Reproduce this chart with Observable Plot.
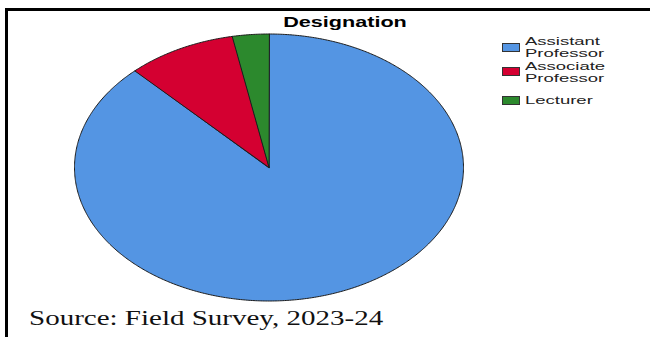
<!DOCTYPE html>
<html>
<head>
<meta charset="utf-8">
<script src="https://cdn.jsdelivr.net/npm/d3@7"></script>
<script src="https://cdn.jsdelivr.net/npm/@observablehq/plot@0.6"></script>
<style>
  html, body { margin: 0; padding: 0; background: #fff; }
  #wrap { position: relative; width: 650px; height: 337px; overflow: hidden; background: #fff; }
  #wrap svg { position: absolute; left: 0; top: 0; }
  .frame { position: absolute; left: 5px; top: 8px; width: 660px; height: 340px;
           border-top: 3px solid #000; border-left: 3px solid #000; }
  .title { position: absolute; left: 245px; width: 200px; top: 13.5px; text-align: center;
           font: bold 15px/15px "Liberation Sans", Arial, sans-serif; color: #000;
           transform: scaleX(1.44); transform-origin: 50% 0; white-space: nowrap; }
  .sw { position: absolute; left: 502px; width: 18px; height: 9px; box-sizing: border-box;
        border: 1px solid #333; }
  .lt { position: absolute; left: 525px; font: 11px/11.5px "Liberation Sans", Arial, sans-serif;
        color: #222; transform: scaleX(1.68); transform-origin: 0 0; white-space: nowrap; }
  .src { position: absolute; left: 29px; top: 308.3px; font: 20px/20px "Liberation Serif", "Times New Roman", serif;
         color: #111; transform: scaleX(1.45); transform-origin: 0 0; white-space: nowrap; }
</style>
</head>
<body>
<div id="wrap"></div>
<script>
// ---- data ----
const categories = ["Assistant Professor", "Associate Professor", "Lecturer"];
const legendLines = [["Assistant", "Professor"], ["Associate", "Professor"], ["Lecturer"]];
const counts = [58, 6, 2];
const colors = ["#5495e3", "#d40031", "#2c892d"];
const titleText = "Designation";
const sourceText = "Source: Field Survey, 2023-24";

// ---- slice geometry from the data ----
const arcs = d3.pie().sort(null).value(d => d)(counts);
function slicePoints(a, key) {
  const pts = [{x: 0, y: 0, key}];
  const n = Math.max(4, Math.ceil((a.endAngle - a.startAngle) / (Math.PI / 360)));
  for (let k = 0; k <= n; k++) {
    const t = a.startAngle + (a.endAngle - a.startAngle) * k / n;
    pts.push({x: Math.sin(t), y: Math.cos(t), key});
  }
  return pts;
}

const marks = arcs.map((a, i) =>
  Plot.line(slicePoints(a, categories[i]), {
    x: "x", y: "y", curve: "linear-closed",
    fill: colors[i], stroke: "#1c1c1c", strokeWidth: 1, strokeLinejoin: "round"
  })
);

const chart = Plot.plot({
  width: 650,
  height: 337,
  marginLeft: 74,
  marginRight: 187,
  marginTop: 33.5,
  marginBottom: 36.5,
  x: {domain: [-1, 1], axis: null},
  y: {domain: [-1, 1], axis: null},
  marks
});

const wrap = document.getElementById("wrap");
wrap.appendChild(chart);

const frame = document.createElement("div");
frame.className = "frame";
wrap.appendChild(frame);

const title = document.createElement("div");
title.className = "title";
title.textContent = titleText;
wrap.appendChild(title);

// legend
const swatchTops = [43, 67, 95.5];
const textTops = [36.4, 61, 94.5];
categories.forEach((c, i) => {
  const sw = document.createElement("div");
  sw.className = "sw";
  sw.style.top = swatchTops[i] + "px";
  sw.style.background = colors[i];
  wrap.appendChild(sw);
  const t = document.createElement("div");
  t.className = "lt";
  t.style.top = textTops[i] + "px";
  t.innerHTML = legendLines[i].join("<br>");
  wrap.appendChild(t);
});

const src = document.createElement("div");
src.className = "src";
src.textContent = sourceText;
wrap.appendChild(src);
</script>
</body>
</html>
